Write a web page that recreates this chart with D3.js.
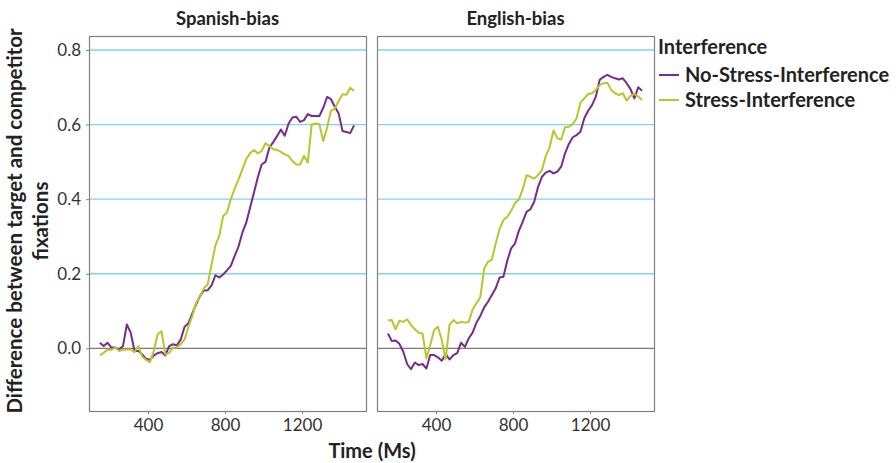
<!DOCTYPE html>
<html>
  <head>
    <title>Target vs competitor fixations</title>
    <script src="https://cdn.jsdelivr.net/npm/d3@7"></script>
    <style>
      body { margin: 0; background: #fff; }
      text { font-family: Lato, "Noto Sans", sans-serif; fill: #222; }
      .tick-label { font-size: 17px; fill: #333; }
      .bold { font-weight: bold; }
    </style>
  </head>
  <body>
    <svg width="896" height="463"></svg>
    <script>
      // time points (ms), shared by every series
      var times = d3.range(150, 1471, 20);

      // facet and series names
      var panels = ["Spanish-bias", "English-bias"];
      var seriesNames = ["No-Stress-Interference", "Stress-Interference"];

      // values
      var spanishNoStress = [0.015, 0.006, 0.015, 0.002, 0.002, -0.003, 0.006, 0.064, 0.042, -0.007,
        -0.007, -0.016, -0.028, -0.031, -0.019, -0.013, -0.010, -0.019, 0.006, 0.011,
        0.008, 0.024, 0.058, 0.067, 0.094, 0.118, 0.140, 0.155, 0.156, 0.169,
        0.196, 0.190, 0.198, 0.209, 0.221, 0.248, 0.273, 0.310, 0.337, 0.377,
        0.417, 0.458, 0.493, 0.500, 0.538, 0.553, 0.569, 0.587, 0.570, 0.603,
        0.619, 0.621, 0.607, 0.612, 0.628, 0.623, 0.623, 0.623, 0.645, 0.674,
        0.668, 0.648, 0.630, 0.583, 0.580, 0.577, 0.598];
      var spanishStress = [-0.019, -0.012, -0.003, -0.004, 0.002, -0.007, -0.004, -0.003, -0.003, -0.010,
        0.006, -0.022, -0.031, -0.037, -0.007, 0.038, 0.046, -0.016, -0.012, 0.002,
        0.002, 0.011, 0.024, 0.058, 0.087, 0.122, 0.139, 0.161, 0.172, 0.225,
        0.276, 0.301, 0.355, 0.364, 0.400, 0.428, 0.453, 0.480, 0.507, 0.523,
        0.532, 0.523, 0.529, 0.550, 0.543, 0.534, 0.532, 0.527, 0.520, 0.516,
        0.502, 0.493, 0.493, 0.516, 0.498, 0.601, 0.603, 0.601, 0.556, 0.592,
        0.637, 0.643, 0.663, 0.681, 0.680, 0.699, 0.690];
      var englishNoStress = [0.040, 0.020, 0.021, 0.012, -0.009, -0.042, -0.056, -0.038, -0.045, -0.042,
        -0.054, -0.018, -0.018, -0.024, -0.033, -0.015, -0.030, -0.018, -0.013, 0.015,
        0.004, 0.027, 0.042, 0.069, 0.087, 0.110, 0.125, 0.143, 0.161, 0.190,
        0.192, 0.235, 0.268, 0.281, 0.315, 0.339, 0.366, 0.373, 0.393, 0.433,
        0.460, 0.471, 0.476, 0.469, 0.474, 0.487, 0.523, 0.548, 0.566, 0.572,
        0.581, 0.617, 0.637, 0.652, 0.675, 0.720, 0.728, 0.733, 0.728, 0.724,
        0.721, 0.724, 0.711, 0.695, 0.670, 0.700, 0.691];
      var englishStress = [0.075, 0.076, 0.051, 0.074, 0.071, 0.078, 0.063, 0.051, 0.042, 0.040,
        -0.027, 0.009, 0.049, 0.058, 0.022, -0.030, 0.063, 0.076, 0.067, 0.071,
        0.069, 0.071, 0.104, 0.121, 0.137, 0.214, 0.232, 0.238, 0.281, 0.320,
        0.344, 0.353, 0.369, 0.389, 0.399, 0.426, 0.464, 0.460, 0.455, 0.465,
        0.478, 0.516, 0.539, 0.584, 0.563, 0.560, 0.593, 0.594, 0.601, 0.617,
        0.659, 0.670, 0.682, 0.684, 0.693, 0.706, 0.711, 0.712, 0.693, 0.684,
        0.679, 0.684, 0.664, 0.677, 0.682, 0.675, 0.666];

      // axis ticks
      var xTicks = [400, 800, 1200];
      var yTicks = [0.0, 0.2, 0.4, 0.6, 0.8];

      var panelData = [
        [spanishNoStress, spanishStress],
        [englishNoStress, englishStress]
      ];
      var colors = ["#7a2a8e", "#b7c72b"];

      var svg = d3.select("svg");
      var panelW = 277, panelTop = 36, panelBottom = 411;
      var panelLeft = [89, 377];

      var y = d3.scaleLinear()
        .domain([-0.168, 0.8375])
        .range([panelBottom, panelTop]);

      panelData.forEach(function (series, p) {
        var x = d3.scaleLinear()
          .domain([93.5, 1532])
          .range([panelLeft[p], panelLeft[p] + panelW]);
        var g = svg.append("g");

        // grid lines: blue, zero line grey
        g.selectAll(".grid")
          .data(yTicks)
          .enter().append("line")
          .attr("x1", x.range()[0]).attr("x2", x.range()[1])
          .attr("y1", function (d) { return y(d); })
          .attr("y2", function (d) { return y(d); })
          .attr("stroke", function (d) { return d === 0 ? "#7a7a7a" : "#7fd3f0"; })
          .attr("stroke-width", 1.3);

        // lines
        var line = d3.line()
          .x(function (d, i) { return x(times[i]); })
          .y(function (d) { return y(d); });
        series.forEach(function (vals, s) {
          g.append("path")
            .attr("d", line(vals))
            .attr("fill", "none")
            .attr("stroke", colors[s])
            .attr("stroke-width", 2)
            .attr("stroke-linejoin", "round");
        });

        // panel border
        g.append("rect")
          .attr("x", x.range()[0] + 0.5).attr("y", panelTop + 0.5)
          .attr("width", panelW).attr("height", panelBottom - panelTop)
          .attr("fill", "none").attr("stroke", "#808080").attr("stroke-width", 1.2);

        // strip title
        g.append("text")
          .attr("class", "bold")
          .attr("x", x.range()[0] + panelW / 2).attr("y", 25)
          .attr("text-anchor", "middle")
          .style("font-size", "18.5px")
          .text(panels[p]);

        // x axis
        var xAxis = g.append("g")
          .attr("transform", "translate(0," + panelBottom + ")")
          .call(d3.axisBottom(x).tickValues(xTicks).tickSize(3).tickPadding(5).tickFormat(d3.format("d")));
        xAxis.select(".domain").remove();
        xAxis.selectAll("line").attr("stroke", "#808080");
        xAxis.selectAll("text").attr("class", "tick-label").attr("font-family", null).attr("font-size", null);
      });

      // y axis on left panel
      var yAxis = svg.append("g")
        .attr("transform", "translate(" + panelLeft[0] + ",0)")
        .call(d3.axisLeft(y).tickValues(yTicks).tickSize(3).tickPadding(5).tickFormat(d3.format(".1f")));
      yAxis.select(".domain").remove();
      yAxis.selectAll("line").attr("stroke", "#808080");
      yAxis.selectAll("text").attr("class", "tick-label").attr("font-family", null).attr("font-size", null);

      // axis titles
      svg.append("text")
        .attr("class", "bold")
        .attr("x", 372).attr("y", 458)
        .attr("text-anchor", "middle")
        .style("font-size", "20px")
        .text("Time (Ms)");

      var yTitle = svg.append("text")
        .attr("class", "bold")
        .attr("transform", "translate(22,221) rotate(-90)")
        .attr("text-anchor", "middle")
        .style("font-size", "20.5px");
      yTitle.append("tspan").attr("x", 0).attr("dy", 0).text("Difference between target and competitor");
      yTitle.append("tspan").attr("x", 0).attr("dy", 26).text("fixations");

      // legend
      var legend = svg.append("g").attr("transform", "translate(658,0)");
      legend.append("text")
        .attr("class", "bold")
        .attr("x", 0).attr("y", 54)
        .style("font-size", "20px")
        .text("Interference");
      seriesNames.forEach(function (name, i) {
        var ly = 75 + i * 25;
        legend.append("line")
          .attr("x1", 1).attr("x2", 21)
          .attr("y1", ly).attr("y2", ly)
          .attr("stroke", colors[i]).attr("stroke-width", 2);
        legend.append("text")
          .attr("class", "bold")
          .attr("x", 27).attr("y", ly + 7)
          .style("font-size", "20px")
          .text(name);
      });
    </script>
  </body>
</html>
